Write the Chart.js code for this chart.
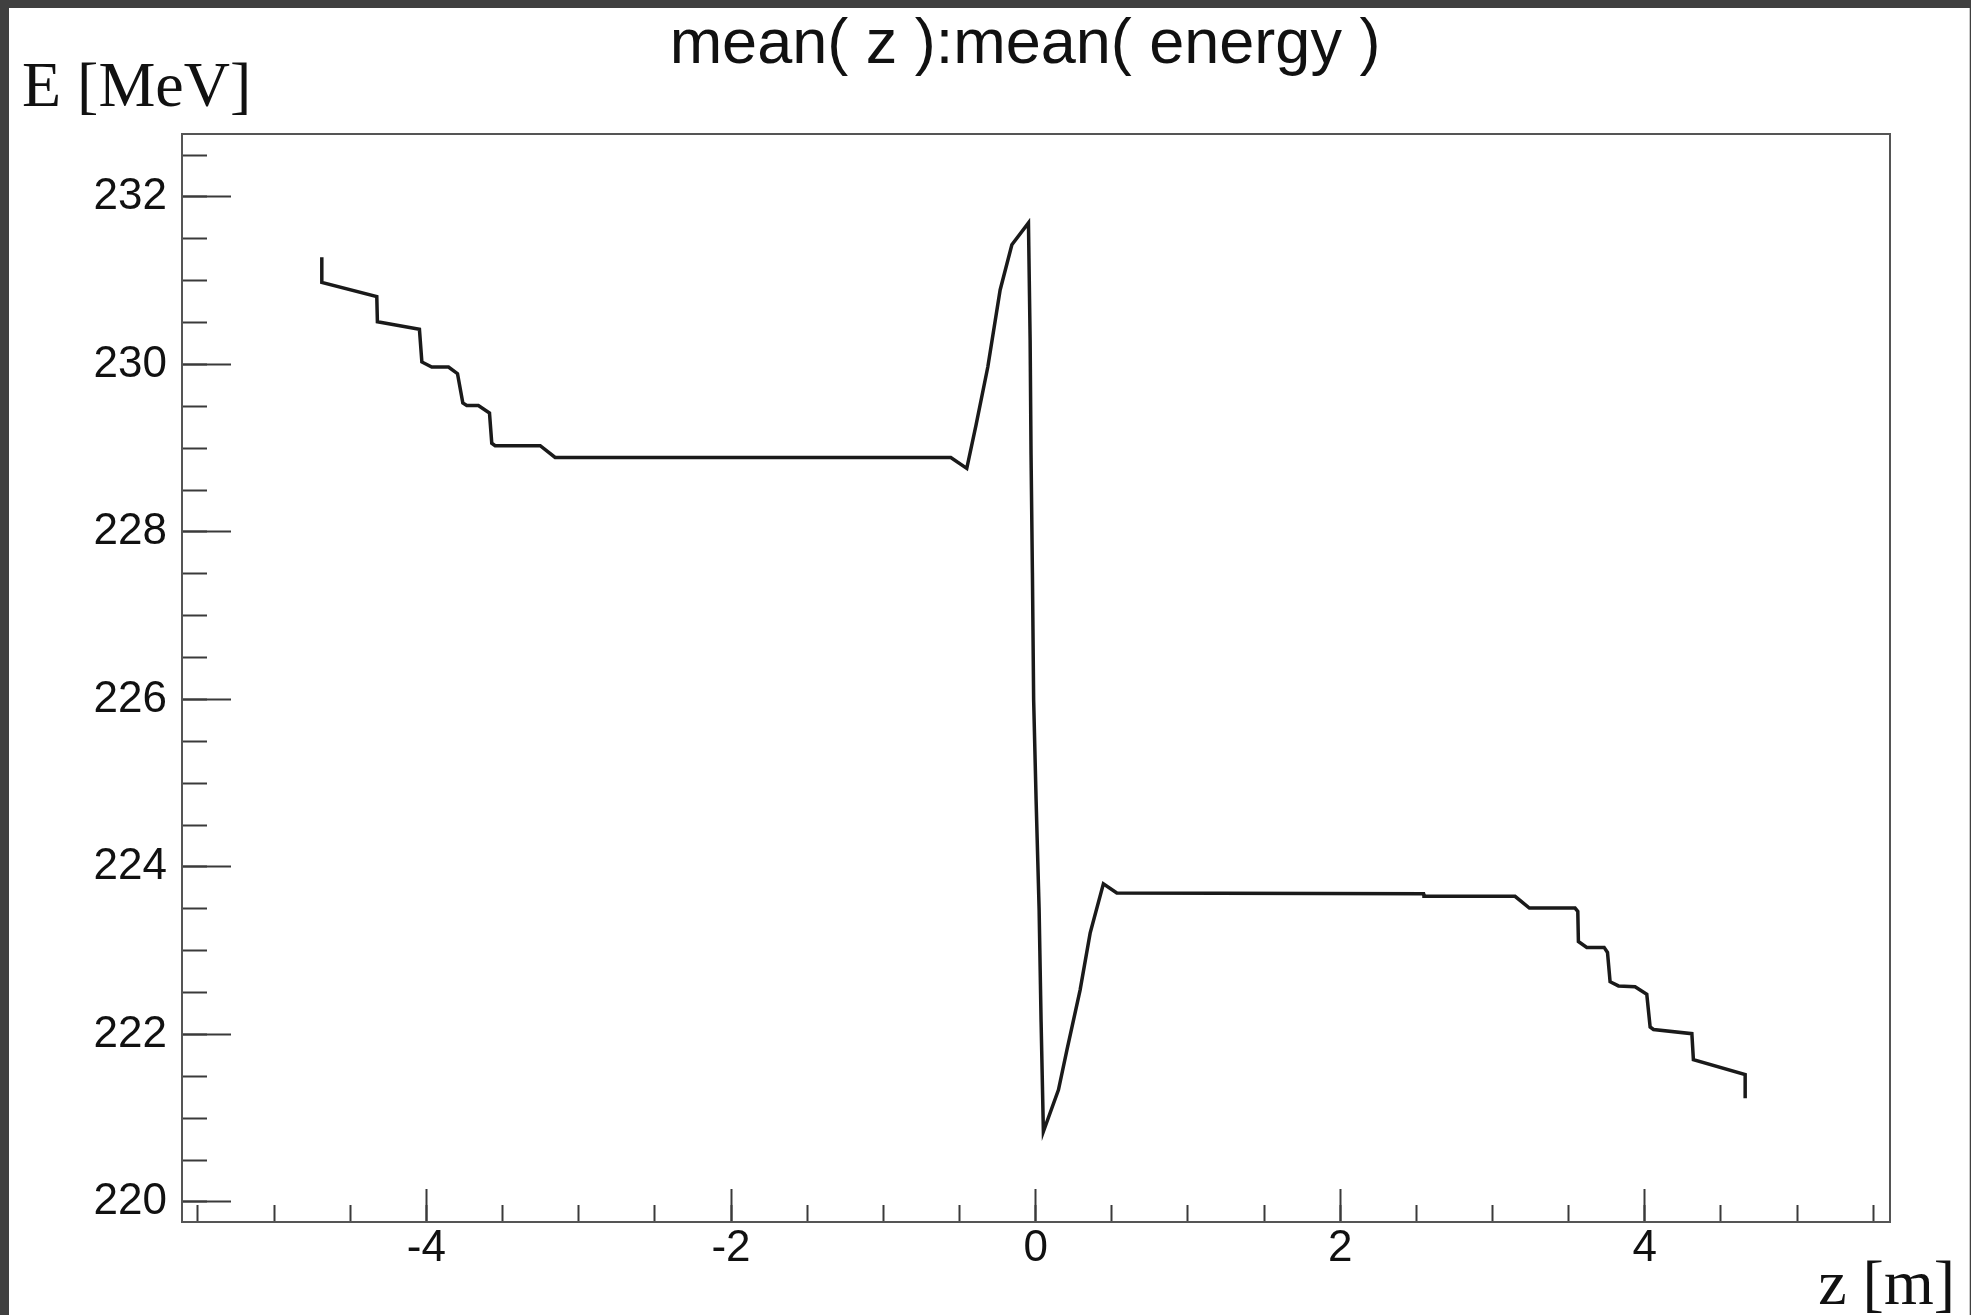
<!DOCTYPE html>
<html>
<head>
<meta charset="utf-8">
<script src="https://cdn.jsdelivr.net/npm/chart.js@4/dist/chart.umd.min.js"></script>
<style>
  html, body { margin: 0; padding: 0; background: #ffffff; }
  #c { display: block; }
</style>
</head>
<body>
<canvas id="c" width="1971" height="1315"></canvas>
<script>
// ---- data ----
const zValues = [
  -4.687, -4.687, -4.326, -4.322, -4.046, -4.030, -3.965, -3.855, -3.796, -3.761,
  -3.735, -3.659, -3.586, -3.571, -3.549, -3.253, -3.155, -0.557, -0.452, -0.391,
  -0.314, -0.233, -0.156, -0.047, -0.036, -0.030, -0.021, -0.013, 0.003, 0.023,
  0.036, 0.051, 0.150, 0.205, 0.292, 0.358, 0.445, 0.533, 2.547, 2.550,
  3.148, 3.242, 3.542, 3.560, 3.564, 3.619, 3.733, 3.755, 3.772, 3.827,
  3.936, 4.013, 4.035, 4.057, 4.309, 4.319, 4.659, 4.659
];
const energyValues = [
  231.28, 230.98, 230.81, 230.51, 230.42, 230.03, 229.97, 229.97, 229.89, 229.54,
  229.51, 229.51, 229.42, 229.06, 229.03, 229.03, 228.89, 228.89, 228.76, 229.28,
  229.97, 230.89, 231.43, 231.69, 230.29, 228.92, 227.51, 226.00, 224.81, 223.49,
  222.15, 220.84, 221.34, 221.81, 222.53, 223.21, 223.80, 223.69, 223.68, 223.65,
  223.65, 223.51, 223.51, 223.47, 223.11, 223.04, 223.04, 222.98, 222.63, 222.58,
  222.57, 222.48, 222.09, 222.06, 222.01, 221.70, 221.52, 221.24
];
const xMajorTicks = [-4, -2, 0, 2, 4];
const xMinorTicks = [-5.5, -5, -4.5, -4, -3.5, -3, -2.5, -2, -1.5, -1, -0.5, 0,
                     0.5, 1, 1.5, 2, 2.5, 3, 3.5, 4, 4.5, 5, 5.5];
const yMajorTicks = [220, 222, 224, 226, 228, 230, 232];
const yMinorTicks = [220, 220.5, 221, 221.5, 222, 222.5, 223, 223.5, 224, 224.5,
                     225, 225.5, 226, 226.5, 227, 227.5, 228, 228.5, 229, 229.5,
                     230, 230.5, 231, 231.5, 232, 232.5];
const xRange = [-5.605, 5.61];
const yRange = [219.761, 232.752];
const titleText = 'mean( z ):mean( energy )';
const xAxisLabel = 'z [m]';
const yAxisLabel = 'E [MeV]';

// ---- helpers ----
const setTicks = arr => scale => { scale.ticks = arr.map(v => ({ value: v })); };
const fixW = w => s => { s.width = w; };
const fixH = h => s => { s.height = h; };
const tickFont = { family: '"Liberation Sans", Arial, sans-serif', size: 44 };
const axisLineColor = '#555555';
const tickMarkColor = '#3a3a3a';

const decorPlugin = {
  id: 'decor',
  beforeDraw(chart) {
    const ctx = chart.ctx;
    ctx.save();
    ctx.fillStyle = '#404040';
    ctx.fillRect(0, 0, chart.width, chart.height);
    ctx.fillStyle = '#ffffff';
    ctx.fillRect(9, 8, chart.width - 11, chart.height - 8);
    ctx.fillStyle = '#c8c8c8';
    ctx.fillRect(chart.width - 2, 8, 1, chart.height - 8);
    ctx.restore();
  },
  afterDraw(chart) {
    const ctx = chart.ctx;
    ctx.save();
    ctx.fillStyle = '#111111';
    ctx.textBaseline = 'alphabetic';
    ctx.font = '63px "Liberation Sans", Arial, sans-serif';
    ctx.textAlign = 'center';
    ctx.fillText(titleText, 1025, 63);
    ctx.font = '64px "Liberation Serif", "Times New Roman", serif';
    ctx.textAlign = 'left';
    ctx.fillText(yAxisLabel, 22, 106);
    ctx.textAlign = 'right';
    ctx.fillText(xAxisLabel, 1955, 1304);
    ctx.restore();
  }
};

const points = zValues.map((z, i) => ({ x: z, y: energyValues[i] }));

new Chart(document.getElementById('c'), {
  type: 'scatter',
  data: {
    datasets: [{
      data: points,
      showLine: true,
      borderColor: '#1a1a1a',
      borderWidth: 3.5,
      pointRadius: 0,
      pointHoverRadius: 0,
      fill: false,
      tension: 0,
      xAxisID: 'x',
      yAxisID: 'y'
    }]
  },
  options: {
    responsive: false,
    animation: false,
    devicePixelRatio: 1,
    layout: { padding: { left: 20, top: 134, right: 81, bottom: 13 } },
    plugins: { legend: { display: false }, tooltip: { enabled: false }, title: { display: false } },
    events: [],
    scales: {
      x: {
        type: 'linear', position: 'bottom', min: xRange[0], max: xRange[1], weight: 1,
        afterBuildTicks: setTicks(xMajorTicks), afterFit: fixH(80),
        grid: { display: true, drawOnChartArea: false, drawTicks: true, tickLength: -33,
                tickWidth: 2, tickColor: tickMarkColor },
        border: { display: true, color: axisLineColor, width: 2 },
        ticks: { font: tickFont, color: '#111111', padding: 33, maxRotation: 0, autoSkip: false,
                 callback: v => String(v) }
      },
      xMinor: {
        type: 'linear', position: 'bottom', min: xRange[0], max: xRange[1], weight: 0,
        afterBuildTicks: setTicks(xMinorTicks), afterFit: fixH(0),
        grid: { display: true, drawOnChartArea: false, drawTicks: true, tickLength: -17,
                tickWidth: 2, tickColor: tickMarkColor },
        border: { display: false },
        ticks: { display: false, autoSkip: false }
      },
      y: {
        type: 'linear', position: 'left', min: yRange[0], max: yRange[1], weight: 1,
        afterBuildTicks: setTicks(yMajorTicks), afterFit: fixW(162),
        grid: { display: true, drawOnChartArea: false, drawTicks: true, tickLength: -49,
                tickWidth: 2, tickColor: tickMarkColor },
        border: { display: true, color: axisLineColor, width: 2 },
        ticks: { font: tickFont, color: '#111111', padding: 64, autoSkip: false,
                 callback: v => String(v) }
      },
      yMinor: {
        type: 'linear', position: 'left', min: yRange[0], max: yRange[1], weight: 0,
        afterBuildTicks: setTicks(yMinorTicks), afterFit: fixW(0),
        grid: { display: true, drawOnChartArea: false, drawTicks: true, tickLength: -25,
                tickWidth: 2, tickColor: tickMarkColor },
        border: { display: false },
        ticks: { display: false, autoSkip: false }
      },
      xTop: {
        type: 'linear', position: 'top', min: xRange[0], max: xRange[1], afterFit: fixH(0),
        grid: { display: false, drawOnChartArea: false, drawTicks: false },
        border: { display: true, color: axisLineColor, width: 2 },
        ticks: { display: false }
      },
      yRight: {
        type: 'linear', position: 'right', min: yRange[0], max: yRange[1], afterFit: fixW(0),
        grid: { display: false, drawOnChartArea: false, drawTicks: false },
        border: { display: true, color: axisLineColor, width: 2 },
        ticks: { display: false }
      }
    }
  },
  plugins: [decorPlugin]
});
</script>
</body>
</html>
